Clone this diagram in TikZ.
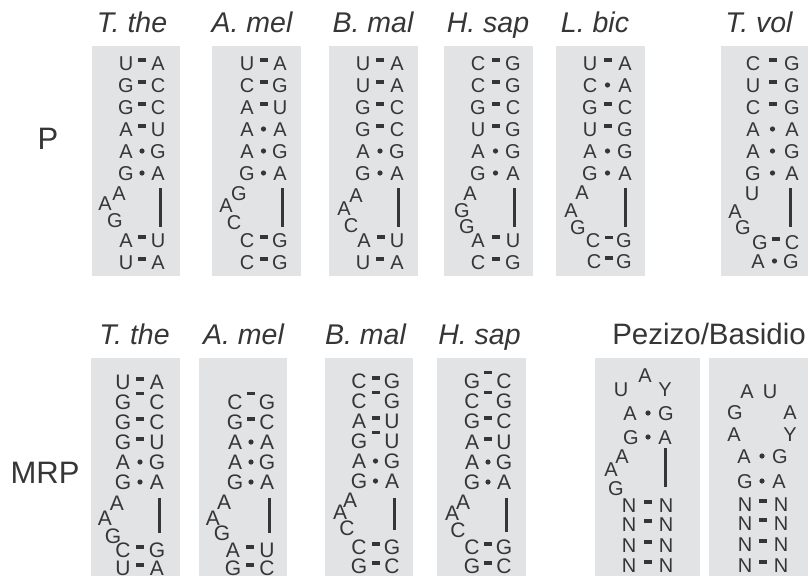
\documentclass[tikz,border=0pt]{standalone}
\usepackage{fontspec}
\setmainfont{Liberation Sans}
\usetikzlibrary{calc}
\definecolor{ink}{HTML}{363636}
\definecolor{panel}{HTML}{E2E3E5}
\tikzset{
  nt/.style={inner sep=0pt, text=ink, font=\fontsize{20}{20}\selectfont, text height=14.3pt, text depth=0pt},
  wc/.style={fill=ink, inner sep=0pt, minimum width=8pt, minimum height=3.6pt, yshift=3pt},
  wchi/.style={wc, yshift=5.5pt},
  nc/.style={circle, fill=ink, inner sep=0pt, minimum size=5.2pt},
  panelbox/.style={fill=panel, draw=none},
  title/.style={inner sep=0pt, text=ink, font=\fontsize{28.5}{28.5}\selectfont\itshape, text height=20.4pt, text depth=0pt},
  grouptitle/.style={inner sep=0pt, text=ink, font=\fontsize{29.5}{29.5}\selectfont, text height=21.1pt, text depth=0pt},
  rowlabel/.style={inner sep=0pt, text=ink, font=\fontsize{31}{31}\selectfont, text height=22.2pt, text depth=0pt},
  stembar/.style={draw=ink, line width=3pt},
}
% base pair: name, y, xL, left letter, connector style, xR, right letter
\newcommand\bpr[7]{%
  \node[nt] (#1l) at (#3,#2) {#4};
  \node[nt] (#1r) at (#6,#2) {#7};
  \node[#5] (#1c) at ($(#1l.center)!0.5!(#1r.center)$) {};
}
% loop letter: name, x, y, letter
\newcommand\lp[4]{\node[nt] (#1) at (#2,#3) {#4};}
% bar: name, x, y1, y2
\newcommand\stbar[4]{%
  \coordinate (#1t) at (#2,#3);
  \coordinate (#1b) at (#2,#4);
  \draw[stembar] (#1t) -- (#1b);
}
\begin{document}
\begin{tikzpicture}[x=1pt,y=-1pt]
\path[use as bounding box, fill=white] (0,0) rectangle (808,576);

% ---------- row labels ----------
\node[rowlabel] (lblP) at (48,138) {P};
\node[rowlabel] (lblMRP) at (45,472) {MRP};

% ---------- P row panels ----------
\fill[panelbox] (92,46) rectangle (180,276);
\fill[panelbox] (212,46) rectangle (301,276);
\fill[panelbox] (329,46) rectangle (418,276);
\fill[panelbox] (444,46) rectangle (533,276);
\fill[panelbox] (556,46) rectangle (645,276);
\fill[panelbox] (721,46) rectangle (808,276);

\node[title] (tP1) at (132,22.5) {T. the};
\node[title] (tP2) at (252,22.5) {A. mel};
\node[title] (tP3) at (373,22.5) {B. mal};
\node[title] (tP4) at (488,22.5) {H. sap};
\node[title] (tP5) at (595,22.5) {L. bic};
\node[title] (tP6) at (759,22.5) {T. vol};

% T. the (P)
\bpr{pa1}{63}{126}{U}{wc}{158}{A}
\bpr{pa2}{85}{126}{G}{wc}{158}{C}
\bpr{pa3}{107}{126}{G}{wc}{158}{C}
\bpr{pa4}{129}{126}{A}{wc}{158}{U}
\bpr{pa5}{151}{126}{A}{nc}{158}{G}
\bpr{pa6}{173}{126}{G}{nc}{158}{A}
\lp{pal1}{119}{193}{A}
\lp{pal2}{105}{203}{A}
\lp{pal3}{115}{220}{G}
\stbar{pabar}{160}{188}{227}
\bpr{pa7}{240}{126}{A}{wc}{158}{U}
\bpr{pa8}{262}{126}{U}{wc}{158}{A}

% A. mel (P)
\bpr{pb1}{63}{247}{U}{wc}{280}{A}
\bpr{pb2}{85}{247}{C}{wc}{280}{G}
\bpr{pb3}{107}{247}{A}{wc}{280}{U}
\bpr{pb4}{129}{247}{A}{nc}{280}{A}
\bpr{pb5}{151}{247}{A}{nc}{280}{G}
\bpr{pb6}{173}{247}{G}{nc}{280}{A}
\lp{pbl1}{239}{193}{G}
\lp{pbl2}{226}{205}{A}
\lp{pbl3}{234}{222}{C}
\stbar{pbbar}{282}{188}{227}
\bpr{pb7}{240}{247}{C}{wc}{280}{G}
\bpr{pb8}{262}{247}{C}{wc}{280}{G}

% B. mal (P)
\bpr{pc1}{63}{363}{U}{wc}{397}{A}
\bpr{pc2}{85}{363}{U}{wc}{397}{A}
\bpr{pc3}{107}{363}{G}{wc}{397}{C}
\bpr{pc4}{129}{363}{G}{wc}{397}{C}
\bpr{pc5}{151}{363}{A}{nc}{397}{G}
\bpr{pc6}{173}{363}{G}{nc}{397}{A}
\lp{pcl1}{356}{195}{A}
\lp{pcl2}{344}{208}{A}
\lp{pcl3}{351}{225}{C}
\stbar{pcbar}{398}{188}{227}
\bpr{pc7}{240}{364}{A}{wc}{397}{U}
\bpr{pc8}{262}{363}{U}{wc}{397}{A}

% H. sap (P)
\bpr{pd1}{63}{478}{C}{wc}{513}{G}
\bpr{pd2}{85}{478}{C}{wc}{513}{G}
\bpr{pd3}{107}{478}{G}{wc}{513}{C}
\bpr{pd4}{129}{478}{U}{wc}{513}{G}
\bpr{pd5}{151}{478}{A}{nc}{513}{G}
\bpr{pd6}{173}{478}{G}{nc}{513}{A}
\lp{pdl1}{470}{193}{A}
\lp{pdl2}{462}{210}{G}
\lp{pdl3}{467}{226}{G}
\stbar{pdbar}{514}{188}{227}
\bpr{pd7}{240}{478}{A}{wc}{513}{U}
\bpr{pd8}{262}{478}{C}{wc}{513}{G}

% L. bic (P)
\bpr{pe1}{63}{590}{U}{wc}{625}{A}
\bpr{pe2}{85}{590}{C}{nc}{625}{A}
\bpr{pe3}{107}{590}{G}{wc}{625}{C}
\bpr{pe4}{129}{590}{U}{wc}{625}{G}
\bpr{pe5}{151}{590}{A}{nc}{625}{G}
\bpr{pe6}{173}{590}{G}{nc}{625}{A}
\lp{pel1}{582}{192}{A}
\lp{pel2}{571}{210}{A}
\lp{pel3}{578}{227}{G}
\stbar{pebar}{625}{188}{227}
\bpr{pe7}{240.5}{593}{C}{wc}{624}{G}
\bpr{pe8}{261}{594}{C}{wc}{624}{G}

% T. vol (P)
\bpr{pf1}{63}{753}{C}{wc}{792}{G}
\bpr{pf2}{85}{753}{U}{wc}{792}{G}
\bpr{pf3}{107}{753}{C}{wc}{792}{G}
\bpr{pf4}{129}{753}{A}{nc}{792}{A}
\bpr{pf5}{151}{753}{A}{nc}{792}{G}
\bpr{pf6}{173}{753}{G}{nc}{792}{A}
\lp{pfl1}{752}{193}{U}
\lp{pfl2}{735}{211}{A}
\lp{pfl3}{743}{227}{G}
\stbar{pfbar}{790}{188}{227}
\bpr{pf7}{242}{760}{G}{wc}{792}{C}
\bpr{pf8}{261}{758}{A}{nc}{791}{G}

% ---------- MRP row panels ----------
\fill[panelbox] (91,358) rectangle (180,576);
\fill[panelbox] (199,358) rectangle (287,576);
\fill[panelbox] (325,358) rectangle (413,576);
\fill[panelbox] (437,358) rectangle (526,576);
\fill[panelbox] (595,358) rectangle (700,576);
\fill[panelbox] (709,358) rectangle (808,576);

\node[title] (tM1) at (134.5,334) {T. the};
\node[title] (tM2) at (243.5,334) {A. mel};
\node[title] (tM3) at (365.5,334) {B. mal};
\node[title] (tM4) at (479.5,334) {H. sap};
\node[grouptitle] (tM5) at (709,334) {Pezizo/Basidio};

\begin{scope}[nt/.append style={font=\fontsize{21}{21}\selectfont, text height=15pt}]
% T. the (MRP)
\bpr{ma1}{382}{123}{U}{wc}{157}{A}
\bpr{ma2}{402}{123}{G}{wchi}{157}{C}
\bpr{ma3}{422}{123}{G}{wc}{157}{C}
\bpr{ma4}{442}{123}{G}{wc}{157}{U}
\bpr{ma5}{462}{123}{A}{nc}{157}{G}
\bpr{ma6}{482}{123}{G}{nc}{157}{A}
\lp{mal1}{117}{503}{A}
\lp{mal2}{105}{518}{A}
\lp{mal3}{113}{536}{G}
\stbar{mabar}{159}{498}{533}
\bpr{ma7}{550}{123}{C}{wc}{157}{G}
\bpr{ma8}{568}{123}{U}{wc}{157}{A}

% A. mel (MRP)
\bpr{mb2}{402}{235}{C}{wchi}{267}{G}
\bpr{mb3}{422}{235}{G}{wc}{267}{C}
\bpr{mb4}{442}{235}{A}{nc}{267}{A}
\bpr{mb5}{462}{235}{A}{nc}{267}{G}
\bpr{mb6}{482}{235}{G}{nc}{267}{A}
\lp{mbl1}{224}{502}{A}
\lp{mbl2}{213}{518}{A}
\lp{mbl3}{222}{533}{G}
\stbar{mbbar}{269}{498}{533}
\bpr{mb7}{550}{233}{A}{wc}{267}{U}
\bpr{mb8}{568}{233}{G}{wc}{267}{C}

% B. mal (MRP)
\bpr{mc1}{381}{359}{C}{wc}{392}{G}
\bpr{mc2}{401}{359}{C}{wchi}{392}{G}
\bpr{mc3}{421}{359}{A}{wc}{392}{U}
\bpr{mc4}{441}{359}{G}{wchi}{392}{U}
\bpr{mc5}{461}{359}{A}{nc}{392}{G}
\bpr{mc6}{481}{359}{G}{nc}{392}{A}
\lp{mcl1}{350}{500}{A}
\lp{mcl2}{340}{512}{A}
\lp{mcl3}{347}{528}{C}
\stbar{mcbar}{394}{498}{530}
\bpr{mc7}{547}{359}{C}{wc}{392}{G}
\bpr{mc8}{566}{359}{G}{wc}{392}{C}

% H. sap (MRP)
\bpr{md1}{381}{472}{G}{wchi}{504}{C}
\bpr{md2}{401}{472}{C}{wchi}{504}{G}
\bpr{md3}{421}{472}{G}{wc}{504}{C}
\bpr{md4}{442}{472}{A}{wc}{504}{U}
\bpr{md5}{462}{472}{A}{nc}{504}{G}
\bpr{md6}{482}{472}{G}{nc}{504}{A}
\lp{mdl1}{463}{502}{A}
\lp{mdl2}{452}{513}{A}
\lp{mdl3}{458}{530}{C}
\stbar{mdbar}{506}{498}{532}
\bpr{md7}{547}{472}{C}{wc}{504}{G}
\bpr{md8}{566}{472}{G}{wc}{504}{C}
\end{scope}

% Pezizo (MRP, panel 1)
\lp{mel1}{645}{375}{A}
\lp{mel2}{621}{389}{U}
\lp{mel3}{665}{389}{Y}
\bpr{me1}{413}{630}{A}{nc}{666}{G}
\bpr{me2}{437}{631}{G}{nc}{665}{A}
\lp{mel4}{622}{456}{A}
\lp{mel5}{611}{469}{A}
\lp{mel6}{616}{488}{G}
\stbar{mebar}{665}{448}{487}
\bpr{me3}{505}{629}{N}{wc}{666}{N}
\bpr{me4}{524}{629}{N}{wc}{666}{N}
\bpr{me5}{545}{629}{N}{wc}{666}{N}
\bpr{me6}{565}{629}{N}{wc}{666}{N}

% Basidio (MRP, panel 2)
\lp{mfl1}{747}{391}{A}
\lp{mfl2}{770}{391}{U}
\lp{mfl3}{735}{412}{G}
\lp{mfl4}{790}{412}{A}
\lp{mfl5}{734}{434}{A}
\lp{mfl6}{790}{434}{Y}
\bpr{mf1}{456}{744}{A}{nc}{780}{G}
\bpr{mf2}{481}{745}{G}{nc}{779}{A}
\bpr{mf3}{504}{745}{N}{wc}{781}{N}
\bpr{mf4}{523}{745}{N}{wc}{781}{N}
\bpr{mf5}{544}{745}{N}{wc}{781}{N}
\bpr{mf6}{565}{745}{N}{wc}{781}{N}
\end{tikzpicture}
\end{document}
